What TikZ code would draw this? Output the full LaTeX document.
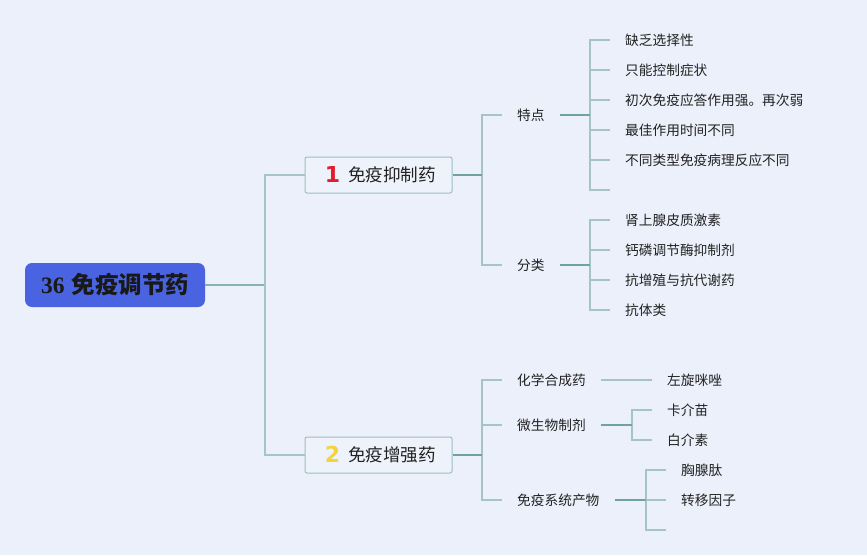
\documentclass[tikz,border=0pt]{standalone}
\usepackage{fontspec}
\setmainfont{Liberation Serif}
\newfontfamily\cjk{Noto Sans CJK SC}
\newfontfamily\numfont{DejaVu Sans}
\definecolor{bg}{HTML}{ECF0FB}
\definecolor{rootblue}{HTML}{4A63E0}
\definecolor{lightline}{HTML}{A5C4C8}
\definecolor{darkline}{HTML}{6FA39C}
\definecolor{rootline}{HTML}{86B2B2}
\definecolor{boxfill}{HTML}{EEF2FA}
\definecolor{boxdraw}{HTML}{9DBEC3}
\definecolor{txt}{HTML}{222222}
\definecolor{numred}{HTML}{E11D2E}
\definecolor{numyellow}{HTML}{F4D43C}
\begin{document}
\begin{tikzpicture}[x=1pt,y=-1pt,
  leaf/.style={anchor=west, inner xsep=15pt, inner ysep=2pt, font=\cjk\fontsize{13.7}{15}\selectfont, text=txt},
  midnode/.style={anchor=west, inner xsep=15pt, inner ysep=2pt, font=\cjk\fontsize{13.7}{15}\selectfont, text=txt},
  mainbox/.style={draw=boxdraw, fill=boxfill, line width=1pt, rounded corners=2pt, minimum width=147pt, minimum height=36pt, inner sep=0pt, font=\cjk\fontsize{17.6}{19}\selectfont, text=txt},
  rootbox/.style={fill=rootblue, rounded corners=7pt, minimum width=180pt, minimum height=44pt, inner sep=0pt, text=black!90},
  lconn/.style={draw=lightline, line width=1.6pt},
  dconn/.style={draw=darkline, line width=2pt},
  rconn/.style={draw=rootline, line width=1.6pt}
]
\fill[bg] (0,0) rectangle (867,555);
\useasboundingbox (0,0) rectangle (867,555);

% root
\node[rootbox] (root) at (115,285) {\fontsize{23.5}{25}\selectfont\textbf{36}\hspace{7pt}{\cjk\bfseries 免疫调节药}};

% main boxes
\node[mainbox] (b1) at (378.5,175) {\hspace{4pt}\raisebox{-1pt}{\numfont\bfseries\fontsize{22}{22}\selectfont\color{numred}1}\hspace{8pt}免疫抑制药};
\node[mainbox] (b2) at (378.5,455) {\hspace{4pt}\raisebox{-1pt}{\numfont\bfseries\fontsize{22}{22}\selectfont\color{numyellow}2}\hspace{8pt}免疫增强药};

\coordinate (j0) at (265,285);
\draw[rconn] (root.east) -- (j0);
\draw[lconn] (j0) |- (b1.west);
\draw[lconn] (j0) |- (b2.west);

% branch 1
\node[midnode] (td) at (502,115) {特点};
\node[midnode] (fl) at (502,265) {分类};
\coordinate (j1) at (482,175);
\draw[lconn] (j1) |- (td.west);
\draw[lconn] (j1) |- (fl.west);
\draw[dconn] (b1.east) -- (j1);

\node[leaf] (t1) at (610,40) {缺乏选择性};
\node[leaf] (t2) at (610,70) {只能控制症状};
\node[leaf] (t3) at (610,100) {初次免疫应答作用强。再次弱};
\node[leaf] (t4) at (610,130) {最佳作用时间不同};
\node[leaf] (t5) at (610,160) {不同类型免疫病理反应不同};
\coordinate (t6) at (610,190);
\coordinate (jt) at (590,115);
\foreach \c in {t1,t2,t3,t4,t5} \draw[lconn] (jt) |- (\c.west);
\draw[lconn] (jt) |- (t6);
\draw[dconn] (td.east) -- (jt);

\node[leaf] (f1) at (610,220) {肾上腺皮质激素};
\node[leaf] (f2) at (610,250) {钙磷调节酶抑制剂};
\node[leaf] (f3) at (610,280) {抗增殖与抗代谢药};
\node[leaf] (f4) at (610,310) {抗体类};
\coordinate (jf) at (590,265);
\foreach \c in {f1,f2,f3,f4} \draw[lconn] (jf) |- (\c.west);
\draw[dconn] (fl.east) -- (jf);

% branch 2
\node[midnode] (hx) at (502,380) {化学合成药};
\node[midnode] (ws) at (502,425) {微生物制剂};
\node[midnode] (my) at (502,500) {免疫系统产物};
\coordinate (j2) at (482,455);
\draw[lconn] (j2) |- (hx.west);
\draw[lconn] (j2) |- (ws.west);
\draw[lconn] (j2) |- (my.west);
\draw[dconn] (b2.east) -- (j2);

\node[leaf] (h1) at (652,380) {左旋咪唑};
\draw[lconn] (hx.east) -- (h1.west);

\node[leaf] (w1) at (652,410) {卡介苗};
\node[leaf] (w2) at (652,440) {白介素};
\coordinate (jw) at (632,425);
\draw[lconn] (jw) |- (w1.west);
\draw[lconn] (jw) |- (w2.west);
\draw[dconn] (ws.east) -- (jw);

\node[leaf] (m1) at (666,470) {胸腺肽};
\node[leaf] (m2) at (666,500) {转移因子};
\coordinate (m3) at (666,530);
\coordinate (jm) at (646,500);
\draw[lconn] (jm) |- (m1.west);
\draw[lconn] (jm) |- (m2.west);
\draw[lconn] (jm) |- (m3);
\draw[dconn] (my.east) -- (jm);
\end{tikzpicture}
\end{document}
